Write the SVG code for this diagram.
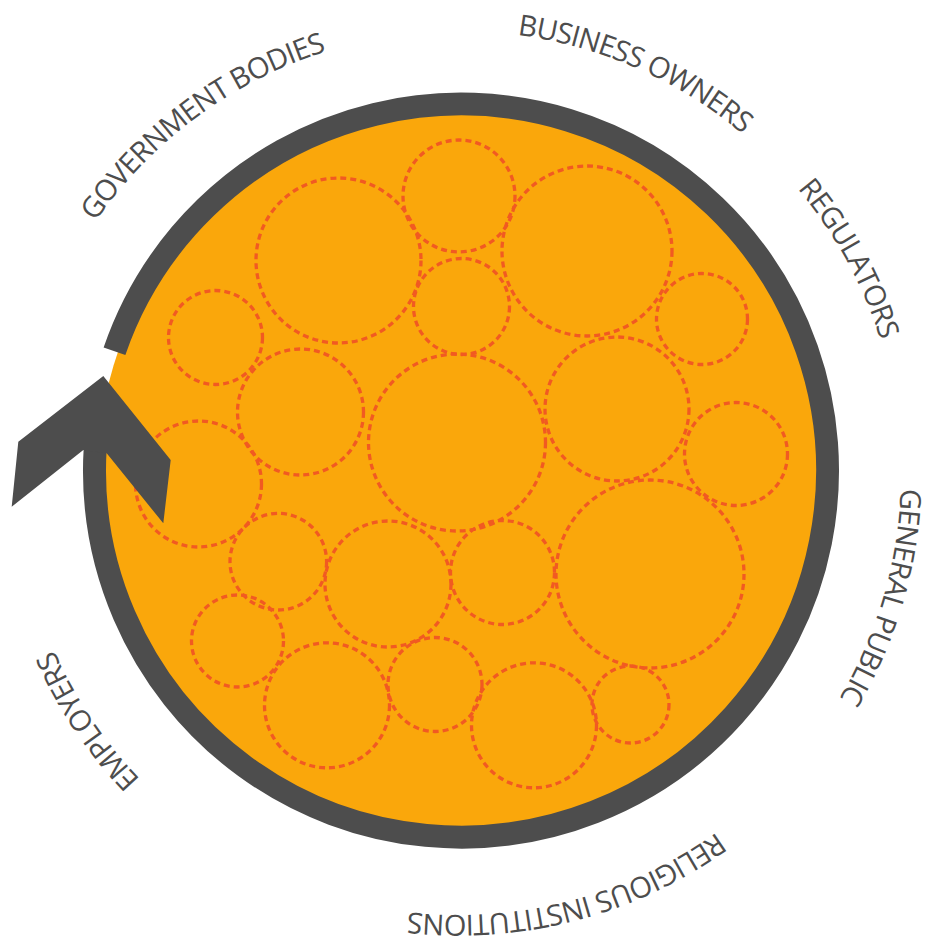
<svg xmlns="http://www.w3.org/2000/svg" xmlns:xlink="http://www.w3.org/1999/xlink" width="927" height="948" viewBox="0 0 927 948">
  <style>
    .bubble { fill: none; stroke: #F15A22; stroke-width: 3.3; stroke-dasharray: 6 4; }
    .label { font-family: "Open Sans", "Noto Sans", "Liberation Sans", sans-serif; font-size: 29px; letter-spacing: -0.9px; fill: #4D4D4D; }
  </style>
  <defs>
    <path id="labelPath" d="M 17,473 A 442 442 0 1 1 901,473 A 442 442 0 1 1 17,473"/>
  </defs>
  <rect width="927" height="948" fill="#FFFFFF"/>

  <g id="core">
    <circle cx="461" cy="470.5" r="363" fill="#FAA70B"/>
  </g>

  <g id="bubbles">
    <circle class="bubble" cx="459" cy="196" r="56"/>
    <circle class="bubble" cx="338.5" cy="260.5" r="82.5"/>
    <circle class="bubble" cx="461.5" cy="306.5" r="48"/>
    <circle class="bubble" cx="215.5" cy="337.5" r="47"/>
    <circle class="bubble" cx="300.5" cy="412" r="63"/>
    <circle class="bubble" cx="457" cy="442.5" r="88.5"/>
    <circle class="bubble" cx="198.5" cy="484" r="63"/>
    <circle class="bubble" cx="587" cy="251" r="85"/>
    <circle class="bubble" cx="702" cy="319" r="45.5"/>
    <circle class="bubble" cx="617" cy="409" r="72"/>
    <circle class="bubble" cx="736" cy="454" r="51.5"/>
    <circle class="bubble" cx="650" cy="574" r="94"/>
    <circle class="bubble" cx="278.3" cy="561.7" r="48.3"/>
    <circle class="bubble" cx="388" cy="584" r="63"/>
    <circle class="bubble" cx="502.5" cy="572.5" r="52"/>
    <circle class="bubble" cx="237.5" cy="641" r="46"/>
    <circle class="bubble" cx="327" cy="705.3" r="62.5"/>
    <circle class="bubble" cx="435" cy="684.5" r="47"/>
    <circle class="bubble" cx="534" cy="725.3" r="62.5"/>
    <circle class="bubble" cx="630.5" cy="704.5" r="38.5"/>
  </g>

  <g id="connectors">
    <path id="cycle-arc" d="M 114.5,351.2 A 366.5 366.5 0 1 1 95.2,448.1" fill="none" stroke="#4D4D4D" stroke-width="23"/>
    <polygon id="cycle-head" points="103.3,376 170.7,460 163.3,523.3 106.7,453.3 83.3,450 11.7,506.7 18.3,441.7" fill="#4D4D4D"/>
  </g>

  <g id="label-government-bodies">
    <text class="label"><textPath xlink:href="#labelPath" href="#labelPath" startOffset="413" text-anchor="middle">GOVERNMENT BODIES</textPath></text>
  </g>
  <g id="label-business-owners">
    <text class="label"><textPath xlink:href="#labelPath" href="#labelPath" startOffset="877" text-anchor="middle">BUSINESS OWNERS</textPath></text>
  </g>
  <g id="label-regulators">
    <text class="label"><textPath xlink:href="#labelPath" href="#labelPath" startOffset="1166" text-anchor="middle">REGULATORS</textPath></text>
  </g>
  <g id="label-general-public">
    <text class="label"><textPath xlink:href="#labelPath" href="#labelPath" startOffset="1514" text-anchor="middle">GENERAL PUBLIC</textPath></text>
  </g>
  <g id="label-religious-institutions">
    <text class="label"><textPath xlink:href="#labelPath" href="#labelPath" startOffset="1970" text-anchor="middle">RELIGIOUS INSTITUTIONS</textPath></text>
  </g>
  <g id="label-employers">
    <text class="label"><textPath xlink:href="#labelPath" href="#labelPath" startOffset="2516" text-anchor="middle">EMPLOYERS</textPath></text>
  </g>
</svg>
